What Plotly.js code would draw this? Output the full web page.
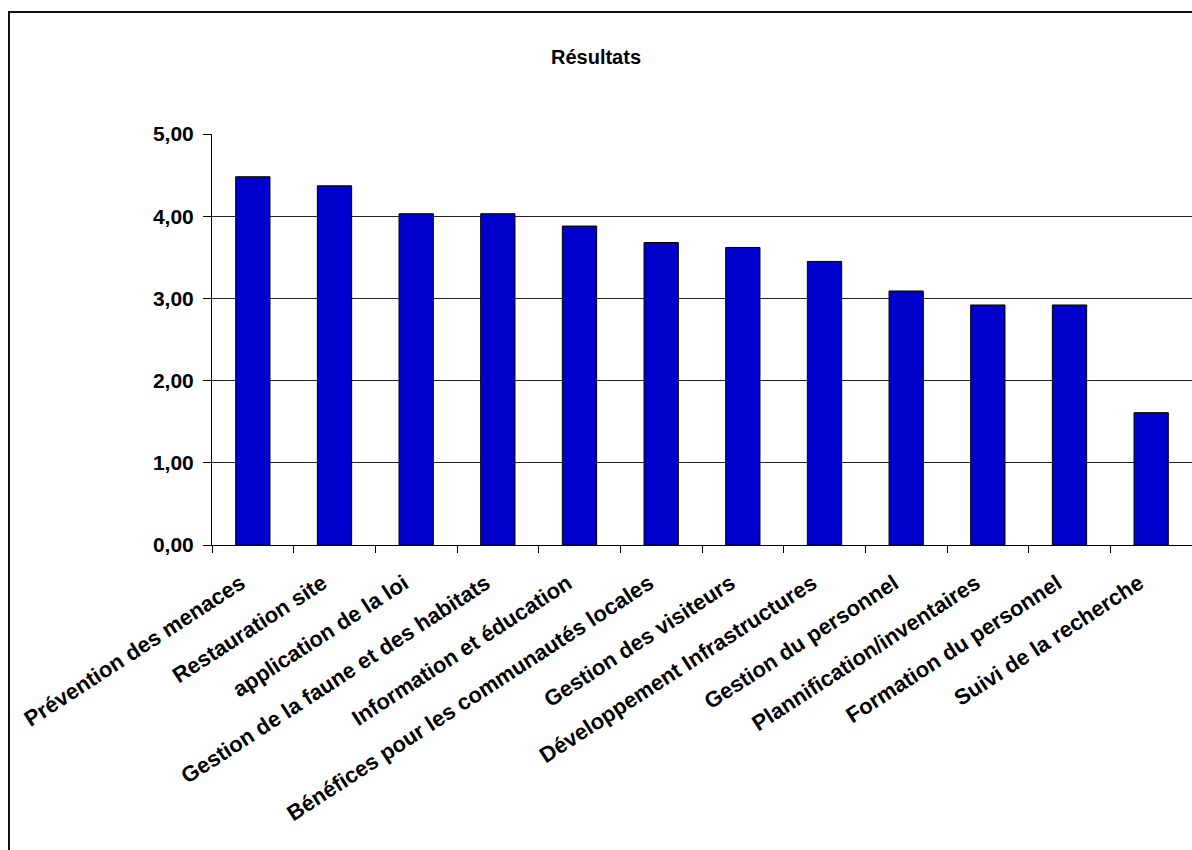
<!DOCTYPE html>
<html>
<head>
<meta charset="utf-8">
<script src="https://cdn.plot.ly/plotly-3.0.1.min.js"></script>
<style>
  html, body { margin: 0; padding: 0; background: #fff; overflow: hidden; }
  #chart { position: absolute; left: 0; top: 0; width: 1192px; height: 850px; }
  #frame { position: absolute; left: 8px; top: 11px; width: 1300px; height: 1000px;
           border-left: 2px solid #111; border-top: 2px solid #111; pointer-events: none; }
</style>
</head>
<body>
<div id="chart"></div>
<div id="frame"></div>
<script>
const categories = [
  "Prévention des menaces",
  "Restauration site",
  "application de la loi",
  "Gestion de la faune et des habitats",
  "Information et éducation",
  "Bénéfices pour les communautés locales",
  "Gestion des visiteurs",
  "Développement Infrastructures",
  "Gestion du personnel",
  "Plannification/inventaires",
  "Formation du personnel",
  "Suivi de la recherche"
];
const values = [4.48, 4.37, 4.03, 4.03, 3.88, 3.68, 3.62, 3.45, 3.09, 2.92, 2.92, 1.61];
const yTicks = [0, 1, 2, 3, 4, 5];

const font = { family: "'Liberation Sans', Arial, sans-serif", color: "#000", weight: "bold" };

const trace = {
  type: "bar",
  x: categories,
  y: values,
  marker: { color: "#0000CC", line: { color: "#000", width: 1 } },
  hoverinfo: "x+y"
};

const layout = {
  width: 1192,
  height: 850,
  paper_bgcolor: "#fff",
  plot_bgcolor: "#fff",
  separators: ", ",
  showlegend: false,
  bargap: 0.58,
  margin: { l: 212, r: 0, t: 134, b: 305, pad: 0 },
  title: {
    text: "Résultats",
    xref: "container", x: 0.5, xanchor: "center",
    yref: "container", y: 1 - 57 / 850, yanchor: "middle",
    font: Object.assign({}, font, { size: 20 })
  },
  xaxis: {
    type: "category",
    tickangle: -33,
    tickson: "boundaries",
    ticks: "outside", ticklen: 7, tickcolor: "#000", tickwidth: 1,
    showline: true, linecolor: "#000", linewidth: 1,
    showgrid: false,
    tickfont: Object.assign({}, font, { size: 22 }),
    ticklabelstandoff: 16,
    ticklabelshift: -12,
    automargin: false
  },
  yaxis: {
    range: [0, 5],
    tickvals: yTicks,
    tickformat: ".2f",
    ticks: "outside", ticklen: 8, tickcolor: "#000", tickwidth: 1,
    showline: true, linecolor: "#000", linewidth: 1,
    showgrid: true, gridcolor: "#222", gridwidth: 1,
    zeroline: false,
    tickfont: Object.assign({}, font, { size: 21 }),
    ticklabelstandoff: 5,
    automargin: false
  }
};

Plotly.newPlot("chart", [trace], layout, { staticPlot: true, displayModeBar: false });
</script>
</body>
</html>
